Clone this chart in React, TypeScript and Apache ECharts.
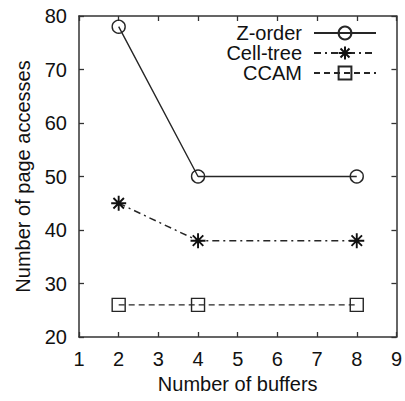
import React, { useEffect, useRef } from "react";
import * as echarts from "echarts";

const buffers = [2, 4, 8];
const zOrder = [78, 50, 50];
const cellTree = [45, 38, 38];
const ccam = [26, 26, 26];
const seriesNames = ["Z-order", "Cell-tree", "CCAM"];

const FONT = "'Liberation Sans', Arial, Helvetica, sans-serif";
const INK = "#111";
const LINE = "#262626";
const STAR = "path://M6 0 L6 12 M0 6 L12 6 M1.8 1.8 L10.2 10.2 M1.8 10.2 L10.2 1.8";

export default function App() {
  const ref = useRef<HTMLDivElement>(null);
  useEffect(() => {
    document.body.style.margin = "0";
    const chart = echarts.init(ref.current!, null, { renderer: "svg" });
    const pts = (ys: number[]) => buffers.map((x, i) => [x, ys[i]]);
    const axisLine = { show: true, lineStyle: { color: "#333", width: 1.5 } };
    const tickIn = { show: true, inside: true, length: 5, lineStyle: { color: "#333", width: 1.3 } };
    const mkLegend = (name: string, top: number) => ({
      data: [name],
      orient: "vertical",
      align: "right",
      right: 28,
      top,
      padding: 0,
      itemWidth: 62,
      itemHeight: 16,
      textStyle: { fontFamily: FONT, fontSize: 20, color: INK, lineHeight: 20, padding: [0, 7, 0, 0] },
    });
    chart.setOption({
      animation: false,
      backgroundColor: "#fff",
      grid: { left: 79, right: 4, top: 16, bottom: 64 },
      legend: [mkLegend(seriesNames[0], 23), mkLegend(seriesNames[1], 43), mkLegend(seriesNames[2], 63)],
      xAxis: [
        {
          type: "value",
          min: 1,
          max: 9,
          interval: 1,
          name: "Number of buffers",
          nameLocation: "middle",
          nameGap: 37,
          nameTextStyle: { fontFamily: FONT, fontSize: 20, color: INK },
          axisLine,
          axisTick: tickIn,
          axisLabel: { fontFamily: FONT, fontSize: 20, color: INK, margin: 12 },
          splitLine: { show: false },
        },
        {
          type: "value",
          position: "top",
          min: 1,
          max: 9,
          interval: 1,
          axisLine,
          axisTick: tickIn,
          axisLabel: { show: false },
          splitLine: { show: false },
        },
      ],
      yAxis: [
        {
          type: "value",
          min: 20,
          max: 80,
          interval: 10,
          name: "Number of page accesses",
          nameLocation: "middle",
          nameGap: 46,
          nameTextStyle: { fontFamily: FONT, fontSize: 20, color: INK },
          axisLine,
          axisTick: tickIn,
          axisLabel: { fontFamily: FONT, fontSize: 20, color: INK, margin: 12 },
          splitLine: { show: false },
        },
        {
          type: "value",
          position: "right",
          min: 20,
          max: 80,
          interval: 10,
          axisLine,
          axisTick: tickIn,
          axisLabel: { show: false },
          splitLine: { show: false },
        },
      ],
      series: [
        {
          name: seriesNames[0],
          type: "line",
          data: pts(zOrder),
          symbol: "circle",
          symbolSize: 13,
          lineStyle: { color: LINE, width: 1.4, type: "solid" },
          itemStyle: { color: "none", borderColor: LINE, borderWidth: 1.4 },
        },
        {
          name: seriesNames[1],
          type: "line",
          data: pts(cellTree),
          symbol: STAR,
          symbolSize: 15,
          lineStyle: { color: LINE, width: 1.4, type: [7, 4, 2, 4] },
          itemStyle: { color: "none", borderColor: "#111", borderWidth: 1.9 },
        },
        {
          name: seriesNames[2],
          type: "line",
          data: pts(ccam),
          symbol: "rect",
          symbolSize: 13,
          lineStyle: { color: LINE, width: 1.4, type: [6, 4] },
          itemStyle: { color: "none", borderColor: LINE, borderWidth: 1.4 },
        },
      ],
    });
    return () => chart.dispose();
  }, []);
  return <div ref={ref} style={{ width: 405, height: 401 }} />;
}
